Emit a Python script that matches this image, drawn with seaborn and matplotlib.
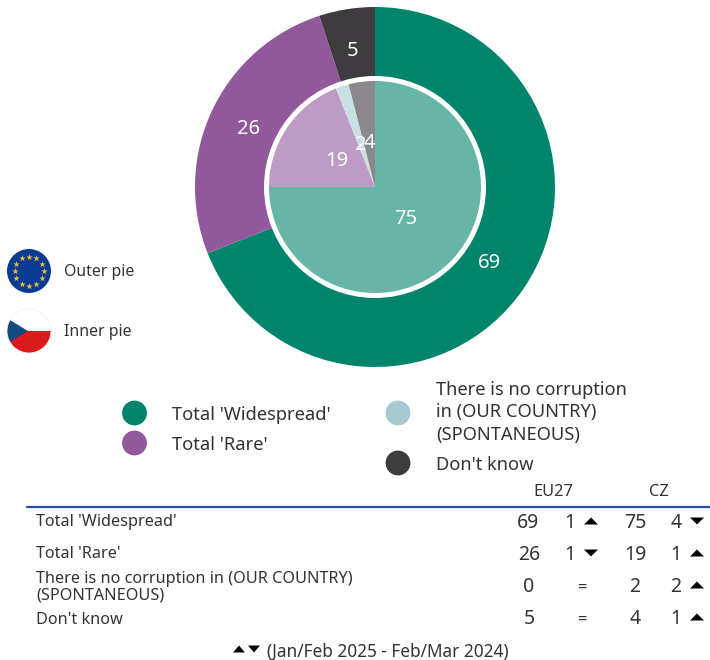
import numpy as np
import matplotlib
matplotlib.use("Agg")
import matplotlib.pyplot as plt
from matplotlib.patches import Circle, Polygon, Rectangle
import seaborn as sns

categories = ["Total 'Widespread'", "Total 'Rare'",
              "There is no corruption in (OUR COUNTRY)\n(SPONTANEOUS)", "Don't know"]
eu27 = [69, 26, 0, 5]
cz = [75, 19, 2, 4]
eu_delta = ["1", "1", "=", "="]
eu_dir = ["up", "down", "", ""]
cz_delta = ["4", "1", "2", "1"]
cz_dir = ["down", "up", "up", "up"]
outer_colors = ["#00846B", "#91589C", "#A6C9D1", "#3F3C40"]
inner_colors = ["#66B5A6", "#BD9BC4", "#C8DFE3", "#8B888B"]

sns.set_theme(style="white")
plt.rcParams["font.family"] = ["Noto Sans", "DejaVu Sans"]
TXT = "#333333"

fig = plt.figure(figsize=(7.1, 6.6), dpi=100)
ax = fig.add_axes([0, 0, 1, 1])
Y = lambda py: 660 - py
T = lambda py: 660 - py - 1.5

# Donut
cx, cy = 375, Y(187)
ax.pie(eu27, colors=outer_colors, center=(cx, cy), radius=180, startangle=90,
       counterclock=False, frame=True, wedgeprops={"linewidth": 0})
ax.add_patch(Circle((cx, cy), 111, fc="white", ec="none", zorder=3))
w, _ = ax.pie(cz, colors=inner_colors, center=(cx, cy), radius=106, startangle=90,
              counterclock=False, frame=True, wedgeprops={"linewidth": 0})
for p in w:
    p.set_zorder(4)
ax.set_xlim(0, 710)
ax.set_ylim(0, 660)
ax.set_aspect("auto")
ax.axis("off")

for vals, pos in ((eu27, [(489, 262), (249, 127), None, (353, 50)]),
                  (cz, [(406, 218), (337, 160), (361, 143), (369, 142)])):
    for v, q in zip(vals, pos):
        if q:
            ax.text(q[0], T(q[1]), str(v), color="white", fontsize=14.5, ha="center",
                    va="center", zorder=6)

# Flags
ax.add_patch(Circle((29, Y(271)), 22, fc="#0A3A94", ec="none"))
t = np.deg2rad(np.arange(0, 360, 30))
ax.scatter(29 + 14.5 * np.cos(t), Y(271) + 14.5 * np.sin(t), marker="*", s=24,
           color="#E8BC3A", linewidths=0, zorder=3)
clip = Circle((29, Y(331)), 22, transform=ax.transData)
for patch in (Rectangle((7, Y(331)), 44, 22, fc="white", ec="none"),
              Rectangle((7, Y(353)), 44, 22, fc="#DB1A1E", ec="none"),
              Polygon([(5, Y(317)), (28, Y(331)), (5, Y(345))], fc="#174A80", ec="none")):
    ax.add_patch(patch)
    patch.set_clip_path(clip)
ax.add_patch(Circle((29, Y(331)), 22, fc="none", ec="#F0F0F0", lw=0.6))
ax.text(64, T(270), "Outer pie", fontsize=11.4, color=TXT, va="center")
ax.text(64, T(331), "Inner pie", fontsize=11.4, color=TXT, va="center")

# Legend
leg_x = [134.5, 134.5, 398, 398]
leg_y = [413, 443, 413, 463]
ax.scatter(leg_x, [Y(v) for v in leg_y], s=320, c=outer_colors, linewidths=0, zorder=3)
leg_text = ["Total 'Widespread'", "Total 'Rare'",
            "There is no corruption\nin (OUR COUNTRY)\n(SPONTANEOUS)", "Don't know"]
leg_tx = [172, 172, 436, 436]
leg_ty = [413, 443, 411, 463]
for s, x, y in zip(leg_text, leg_tx, leg_ty):
    ax.text(x, T(y), s, fontsize=13.2, color=TXT, va="center", linespacing=1.32)

# Table
ax.plot([27, 710], [Y(506.5), Y(506.5)], color="#1F4F9E", lw=1.6)
ax.text(553, T(490), "EU27", fontsize=11.8, color=TXT, ha="center", va="center")
ax.text(659, T(490), "CZ", fontsize=11.8, color=TXT, ha="center", va="center")
rows = [521, 553, 586, 618]
rows_num = [522, 554, 586, 618]
eu_x = [528, 529, 529, 529]
cz_x = [635, 635, 635, 635]


def tri(x, y, d, half=7):
    h = 3.5 if d == "up" else -3.5
    ax.add_patch(Polygon([(x - half, Y(y) - h), (x + half, Y(y) - h), (x, Y(y) + h)],
                         fc="black", ec="none"))


for i, c in enumerate(categories):
    ax.text(36, T(rows[i]), c, fontsize=11.7, color=TXT, va="center", linespacing=1.08)
    yn = rows_num[i]
    ax.text(eu_x[i], T(yn), str(eu27[i]), fontsize=14, color=TXT, ha="center", va="center")
    ax.text(cz_x[i], T(yn), str(cz[i]), fontsize=14, color=TXT, ha="center", va="center")
    if eu_delta[i] == "=":
        ax.text(582, T(yn), "=", fontsize=12, color=TXT, ha="center", va="center")
    else:
        ax.text(570, T(yn), eu_delta[i], fontsize=14, color=TXT, ha="center", va="center")
        tri(591, yn - 1, eu_dir[i])
    ax.text(676, T(yn), cz_delta[i], fontsize=14, color=TXT, ha="center", va="center")
    tri(697, yn - 1, cz_dir[i])

tri(239, 649, "up", 6)
tri(254, 649, "down", 6)
ax.text(267, T(650), "(Jan/Feb 2025 - Feb/Mar 2024)", fontsize=12.4, color=TXT, va="center")

fig.savefig("out.png", dpi=100)
